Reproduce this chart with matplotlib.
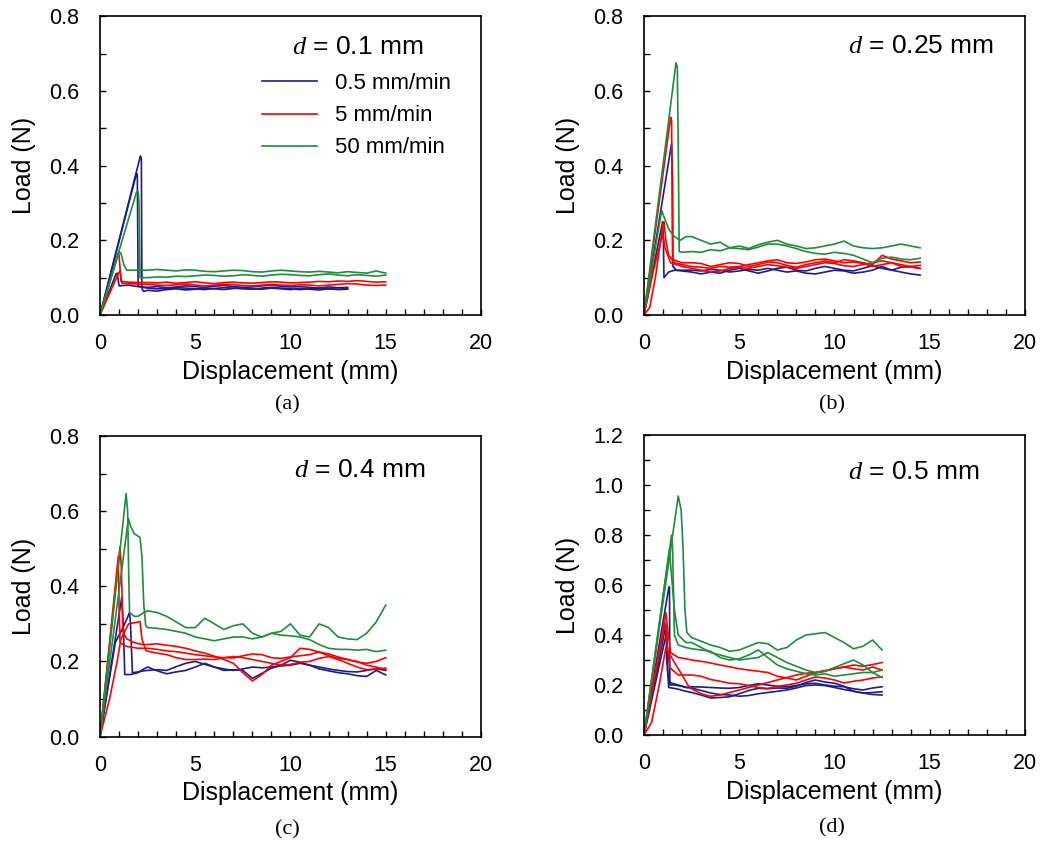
import matplotlib
matplotlib.use('Agg')
import matplotlib.pyplot as plt
from matplotlib.ticker import MultipleLocator, FormatStrFormatter

plt.rcParams['font.family'] = ['Liberation Sans', 'DejaVu Sans']
plt.rcParams['mathtext.fontset'] = 'custom'
plt.rcParams['mathtext.it'] = 'Liberation Serif:italic'
plt.rcParams['mathtext.rm'] = 'Liberation Sans'

rates = ['0.5 mm/min', '5 mm/min', '50 mm/min']
colors = ['#1c1c8c', '#ff0000', '#1e8c3a']

# displacement (mm) of the plateau readings, shared by all curves
plateau_x = [2.5, 3.0, 3.5, 4.0, 4.5, 5.0, 5.5, 6.0, 6.5, 7.0, 7.5, 8.0, 8.5,
             9.0, 9.5, 10.0, 10.5, 11.0, 11.5, 12.0, 12.5, 13.0, 13.5, 14.0,
             14.5, 15.0]

# ---- (a) d = 0.1 mm ----
a_blue1_hx = [0, 2.12, 2.17, 2.2, 2.3]
a_blue1_y = [0, 0.426, 0.42, 0.07, 0.063,
             0.066, 0.064, 0.068, 0.070, 0.067, 0.069, 0.072, 0.070, 0.068, 0.071, 0.073,
             0.070, 0.069, 0.072, 0.070, 0.068, 0.071, 0.069, 0.067, 0.070, 0.068, 0.069]
a_blue2_hx = [0, 1.92, 1.96, 2.0, 2.2]
a_blue2_y = [0, 0.38, 0.375, 0.078, 0.075,
             0.074, 0.076, 0.073, 0.075, 0.078, 0.076, 0.074, 0.077, 0.079, 0.076, 0.074,
             0.075, 0.078, 0.080, 0.077, 0.075, 0.076, 0.074, 0.072, 0.075, 0.073, 0.074]
a_blue3_hx = [0, 0.84, 0.9, 1.0, 1.5, 2.0]
a_blue3_y = [0, 0.11, 0.112, 0.078, 0.08, 0.076,
             0.072, 0.070, 0.071, 0.073, 0.072, 0.070, 0.068, 0.071, 0.073, 0.072, 0.070,
             0.069, 0.072, 0.074, 0.072, 0.070, 0.068, 0.070, 0.072, 0.070, 0.069, 0.071]
a_red1_hx = [0, 0.95, 1.0, 1.1, 1.5, 2.0]
a_red1_y = [0, 0.165, 0.16, 0.09, 0.088, 0.087,
            0.087, 0.086, 0.088, 0.085, 0.087, 0.089, 0.086, 0.084, 0.087, 0.088, 0.086,
            0.085, 0.087, 0.089, 0.088, 0.086, 0.087, 0.088, 0.090, 0.089, 0.091, 0.090,
            0.092, 0.090, 0.088, 0.089]
a_red2_hx = [0, 0.98, 1.05, 1.15, 2.0]
a_red2_y = [0, 0.113, 0.118, 0.085, 0.083,
            0.082, 0.080, 0.079, 0.081, 0.083, 0.080, 0.078, 0.080, 0.082, 0.081, 0.079,
            0.078, 0.080, 0.082, 0.080, 0.079, 0.081, 0.080, 0.078, 0.080, 0.082, 0.084,
            0.083, 0.080, 0.079, 0.080]
a_green1_hx = [0, 1.0, 1.1, 1.25, 1.4, 2.0]
a_green1_y = [0, 0.17, 0.165, 0.135, 0.12, 0.12,
              0.120, 0.122, 0.120, 0.118, 0.121, 0.120, 0.117, 0.116, 0.118, 0.120, 0.119,
              0.116, 0.115, 0.118, 0.120, 0.118, 0.116, 0.115, 0.117, 0.115, 0.113, 0.116,
              0.114, 0.112, 0.118, 0.112]
a_green2_hx = [0, 1.92, 2.0, 2.05, 2.1, 2.3]
a_green2_y = [0, 0.33, 0.33, 0.3, 0.1, 0.1,
              0.100, 0.102, 0.101, 0.104, 0.103, 0.105, 0.107, 0.106, 0.104, 0.105, 0.108,
              0.106, 0.104, 0.107, 0.109, 0.108, 0.106, 0.105, 0.108, 0.110, 0.107, 0.105,
              0.108, 0.106, 0.104, 0.107]

# ---- (b) d = 0.25 mm ----
b_blue1_hx = [0, 1.45, 1.5, 1.52, 1.7, 2.0]
b_blue1_y = [0, 0.46, 0.36, 0.13, 0.12, 0.12,
             0.120, 0.118, 0.122, 0.120, 0.115, 0.118, 0.122, 0.120, 0.125, 0.120, 0.115,
             0.118, 0.112, 0.110, 0.115, 0.120, 0.118, 0.112, 0.115, 0.120, 0.130, 0.120,
             0.115, 0.110, 0.107]
b_blue2_hx = [0, 0.98, 1.02, 1.05, 1.3, 1.6, 2.0]
b_blue2_y = [0, 0.25, 0.2, 0.1, 0.115, 0.12, 0.118,
             0.115, 0.110, 0.115, 0.112, 0.120, 0.125, 0.118, 0.112, 0.118, 0.125, 0.128,
             0.120, 0.118, 0.125, 0.130, 0.125, 0.120, 0.118, 0.125, 0.132, 0.125, 0.120,
             0.128, 0.130, 0.125]
b_red1_hx = [0, 1.4, 1.45, 1.5, 1.7, 2.0]
b_red1_y = [0, 0.53, 0.52, 0.15, 0.145, 0.14,
            0.140, 0.138, 0.130, 0.135, 0.140, 0.138, 0.130, 0.135, 0.142, 0.140, 0.133,
            0.128, 0.135, 0.140, 0.145, 0.140, 0.148, 0.145, 0.140, 0.135, 0.160, 0.150,
            0.145, 0.140, 0.142]
b_red2_hx = [0, 0.3, 0.6, 1.0, 1.05, 1.15, 1.3, 1.6, 2.0]
b_red2_y = [0, 0.02, 0.1, 0.245, 0.25, 0.2, 0.16, 0.14, 0.135,
            0.130, 0.128, 0.125, 0.130, 0.128, 0.130, 0.135, 0.140, 0.145, 0.148, 0.140,
            0.138, 0.142, 0.148, 0.150, 0.145, 0.140, 0.142, 0.138, 0.130, 0.135, 0.140,
            0.135, 0.130, 0.133]
b_red3_hx = [0, 0.5, 0.9, 1.0, 1.1, 1.4, 2.0]
b_red3_y = [0, 0.12, 0.2, 0.215, 0.18, 0.14, 0.13,
            0.125, 0.120, 0.115, 0.118, 0.125, 0.128, 0.125, 0.130, 0.135, 0.132, 0.128,
            0.125, 0.130, 0.135, 0.140, 0.138, 0.132, 0.130, 0.135, 0.140, 0.145, 0.140,
            0.130, 0.128, 0.125]
b_green1_hx = [0, 1.68, 1.75, 1.8, 1.85, 2.0]
b_green1_y = [0, 0.676, 0.665, 0.45, 0.17, 0.168,
              0.170, 0.168, 0.175, 0.172, 0.180, 0.178, 0.175, 0.182, 0.190, 0.190, 0.185,
              0.178, 0.170, 0.165, 0.163, 0.168, 0.165, 0.160, 0.150, 0.140, 0.152, 0.155,
              0.150, 0.148, 0.152]
b_green2_hx = [0, 0.93, 1.0, 1.3, 1.6, 1.9, 2.2]
b_green2_y = [0, 0.28, 0.27, 0.23, 0.21, 0.2, 0.21,
              0.210, 0.200, 0.190, 0.195, 0.180, 0.185, 0.178, 0.188, 0.195, 0.200, 0.190,
              0.185, 0.178, 0.180, 0.185, 0.190, 0.198, 0.185, 0.180, 0.178, 0.180, 0.185,
              0.190, 0.185, 0.180]

# ---- (c) d = 0.4 mm ----
c_blue1_hx = [0, 1.14, 1.22, 1.3, 1.6, 2.0, 2.3]
c_blue1_y = [0, 0.37, 0.3, 0.165, 0.165, 0.17, 0.18,
             0.185, 0.175, 0.167, 0.172, 0.176, 0.185, 0.195, 0.185, 0.176, 0.178, 0.176,
             0.155, 0.168, 0.182, 0.190, 0.203, 0.198, 0.190, 0.180, 0.175, 0.170, 0.167,
             0.162, 0.160, 0.176, 0.164]
c_blue2_hx = [0, 0.8, 1.3, 1.55, 1.6, 1.7, 2.0, 2.3]
c_blue2_y = [0, 0.25, 0.3, 0.33, 0.3, 0.17, 0.172, 0.175,
             0.176, 0.178, 0.176, 0.186, 0.195, 0.200, 0.192, 0.185, 0.180, 0.176, 0.180,
             0.185, 0.183, 0.185, 0.188, 0.190, 0.195, 0.190, 0.185, 0.180, 0.176, 0.173,
             0.172, 0.176, 0.180, 0.176]
c_red1_hx = [0, 1.05, 1.12, 1.2, 1.4, 1.8, 2.2]
c_red1_y = [0, 0.506, 0.45, 0.28, 0.26, 0.25, 0.245,
            0.245, 0.247, 0.243, 0.240, 0.235, 0.228, 0.222, 0.214, 0.205, 0.195, 0.170,
            0.148, 0.165, 0.190, 0.200, 0.210, 0.235, 0.232, 0.225, 0.215, 0.208, 0.205,
            0.200, 0.190, 0.185, 0.178]
c_red2_hx = [0, 0.96, 1.0, 1.05, 1.4, 2.0]
c_red2_y = [0, 0.48, 0.35, 0.25, 0.24, 0.235,
            0.235, 0.232, 0.228, 0.226, 0.222, 0.218, 0.215, 0.212, 0.210, 0.209, 0.215,
            0.220, 0.218, 0.210, 0.208, 0.212, 0.215, 0.218, 0.225, 0.220, 0.212, 0.205,
            0.198, 0.195, 0.200, 0.210]
c_red3_hx = [0, 0.5, 0.9, 1.1, 1.5, 2.1, 2.2, 2.4]
c_red3_y = [0, 0.1, 0.2, 0.26, 0.3, 0.306, 0.26, 0.23,
            0.227, 0.222, 0.218, 0.210, 0.205, 0.205, 0.206, 0.205, 0.210, 0.213, 0.210,
            0.205, 0.200, 0.195, 0.190, 0.192, 0.198, 0.200, 0.208, 0.213, 0.205, 0.195,
            0.185, 0.178, 0.180, 0.182]
c_green1_hx = [0, 1.37, 1.45, 1.5, 1.55, 1.8, 2.0, 2.3]
c_green1_y = [0, 0.647, 0.6, 0.45, 0.33, 0.32, 0.32, 0.33,
              0.335, 0.330, 0.320, 0.305, 0.290, 0.290, 0.315, 0.300, 0.285, 0.295, 0.300,
              0.275, 0.265, 0.275, 0.280, 0.300, 0.270, 0.265, 0.300, 0.290, 0.265, 0.260,
              0.258, 0.275, 0.305, 0.350]
c_green2_hx = [0, 1.49, 1.6, 1.8, 2.1, 2.2, 2.3, 2.4]
c_green2_y = [0, 0.58, 0.56, 0.54, 0.53, 0.48, 0.35, 0.295,
              0.290, 0.288, 0.285, 0.280, 0.275, 0.265, 0.260, 0.255, 0.260, 0.265, 0.265,
              0.260, 0.265, 0.275, 0.270, 0.268, 0.265, 0.258, 0.245, 0.235, 0.232, 0.232,
              0.230, 0.232, 0.226, 0.230]

# ---- (d) d = 0.5 mm ----
d_blue1_hx = [0, 1.31, 1.34, 1.36, 1.6, 2.0, 2.3]
d_blue1_y = [0, 0.593, 0.59, 0.2, 0.2, 0.195, 0.19,
             0.193, 0.192, 0.190, 0.188, 0.187, 0.190, 0.198, 0.205, 0.200, 0.195, 0.193,
             0.198, 0.205, 0.207, 0.200, 0.195, 0.193, 0.185, 0.180, 0.188, 0.193]
d_blue2_hx = [0, 1.05, 1.15, 1.2, 1.3, 1.7, 2.2]
d_blue2_y = [0, 0.4, 0.44, 0.3, 0.19, 0.185, 0.175,
             0.170, 0.160, 0.148, 0.150, 0.153, 0.165, 0.178, 0.187, 0.185, 0.188, 0.187,
             0.195, 0.210, 0.220, 0.212, 0.207, 0.195, 0.175, 0.168, 0.162, 0.160]
d_blue3_hx = [0, 1.1, 1.2, 1.25, 1.35, 1.8, 2.2]
d_blue3_y = [0, 0.38, 0.41, 0.25, 0.21, 0.2, 0.19,
             0.188, 0.178, 0.168, 0.162, 0.160, 0.155, 0.158, 0.165, 0.170, 0.175, 0.180,
             0.188, 0.198, 0.200, 0.198, 0.190, 0.182, 0.175, 0.168, 0.170, 0.173]
d_red1_hx = [0, 1.15, 1.25, 1.4, 1.8, 2.2]
d_red1_y = [0, 0.49, 0.42, 0.33, 0.31, 0.305,
            0.300, 0.295, 0.288, 0.280, 0.273, 0.265, 0.260, 0.255, 0.250, 0.235, 0.228,
            0.220, 0.235, 0.248, 0.255, 0.265, 0.272, 0.265, 0.260, 0.272, 0.260]
d_red2_hx = [0, 1.1, 1.2, 1.35, 1.8, 2.2]
d_red2_y = [0, 0.45, 0.38, 0.27, 0.24, 0.24,
            0.240, 0.235, 0.222, 0.215, 0.207, 0.205, 0.198, 0.190, 0.186, 0.195, 0.200,
            0.207, 0.220, 0.232, 0.228, 0.220, 0.208, 0.215, 0.220, 0.228, 0.233]
d_red3_hx = [0, 0.4, 0.8, 1.15, 1.3, 1.6, 2.0, 2.3]
d_red3_y = [0, 0.05, 0.2, 0.35, 0.33, 0.29, 0.24, 0.2,
            0.185, 0.165, 0.155, 0.160, 0.170, 0.180, 0.190, 0.200, 0.210, 0.220, 0.230,
            0.240, 0.247, 0.250, 0.258, 0.265, 0.272, 0.280, 0.275, 0.282, 0.290]
d_green1_hx = [0, 1.8, 1.95, 2.05, 2.15, 2.25]
d_green1_y = [0, 0.956, 0.9, 0.75, 0.5, 0.41,
              0.390, 0.375, 0.360, 0.350, 0.335, 0.340, 0.355, 0.370, 0.365, 0.340, 0.350,
              0.380, 0.400, 0.405, 0.410, 0.390, 0.370, 0.345, 0.355, 0.380, 0.340]
d_green2_hx = [0, 1.45, 1.5, 1.6, 1.8, 2.2]
d_green2_y = [0, 0.8, 0.75, 0.4, 0.36, 0.35,
              0.345, 0.340, 0.335, 0.310, 0.300, 0.305, 0.320, 0.340, 0.310, 0.280, 0.265,
              0.255, 0.245, 0.240, 0.245, 0.235, 0.240, 0.245, 0.250, 0.250, 0.260]
d_green3_hx = [0, 1.33, 1.4, 1.6, 1.8, 2.2]
d_green3_y = [0, 0.74, 0.68, 0.5, 0.4, 0.37,
              0.370, 0.350, 0.330, 0.320, 0.310, 0.300, 0.305, 0.310, 0.330, 0.310, 0.290,
              0.275, 0.260, 0.250, 0.255, 0.270, 0.285, 0.300, 0.280, 0.250, 0.230]

panels = [
    {'rect': [0.0948, 0.6277, 0.3611, 0.3528], 'ymax': 0.8, 'd': '0.1',
     'dpos': (0.505, 0.875), 'cap': '(a)', 'cap_xy': (0.272, 0.521),
     'curves': [[(a_blue1_hx, a_blue1_y), (a_blue2_hx, a_blue2_y), (a_blue3_hx, a_blue3_y)],
                [(a_red1_hx, a_red1_y), (a_red2_hx, a_red2_y)],
                [(a_green1_hx, a_green1_y), (a_green2_hx, a_green2_y)]]},
    {'rect': [0.6104, 0.6277, 0.3611, 0.3528], 'ymax': 0.8, 'd': '0.25',
     'dpos': (0.535, 0.878), 'cap': '(b)', 'cap_xy': (0.789, 0.521),
     'curves': [[(b_blue1_hx, b_blue1_y), (b_blue2_hx, b_blue2_y)],
                [(b_red1_hx, b_red1_y), (b_red2_hx, b_red2_y), (b_red3_hx, b_red3_y)],
                [(b_green1_hx, b_green1_y), (b_green2_hx, b_green2_y)]]},
    {'rect': [0.0948, 0.1294, 0.3611, 0.3552], 'ymax': 0.8, 'd': '0.4',
     'dpos': (0.51, 0.862), 'cap': '(c)', 'cap_xy': (0.272, 0.019),
     'curves': [[(c_blue1_hx, c_blue1_y), (c_blue2_hx, c_blue2_y)],
                [(c_red1_hx, c_red1_y), (c_red2_hx, c_red2_y), (c_red3_hx, c_red3_y)],
                [(c_green1_hx, c_green1_y), (c_green2_hx, c_green2_y)]]},
    {'rect': [0.6104, 0.1312, 0.3611, 0.3546], 'ymax': 1.2, 'd': '0.5',
     'dpos': (0.535, 0.855), 'cap': '(d)', 'cap_xy': (0.789, 0.021),
     'curves': [[(d_blue1_hx, d_blue1_y), (d_blue2_hx, d_blue2_y), (d_blue3_hx, d_blue3_y)],
                [(d_red1_hx, d_red1_y), (d_red2_hx, d_red2_y), (d_red3_hx, d_red3_y)],
                [(d_green1_hx, d_green1_y), (d_green2_hx, d_green2_y), (d_green3_hx, d_green3_y)]]},
]

fig = plt.figure(figsize=(10.55, 8.46), dpi=100)

for i, p in enumerate(panels):
    ax = fig.add_axes(p['rect'])
    handles = []
    for k, group in enumerate(p['curves']):
        for j, (hx, y) in enumerate(group):
            x = hx + plateau_x[:len(y) - len(hx)]
            ln, = ax.plot(x, y, color=colors[k], lw=1.2)
            if j == 0:
                ln.set_label(rates[k])
                handles.append(ln)

    ax.set_xlim(0, 20)
    ax.set_ylim(0, p['ymax'])
    ax.xaxis.set_major_locator(MultipleLocator(5))
    ax.xaxis.set_minor_locator(MultipleLocator(1))
    ax.yaxis.set_major_locator(MultipleLocator(0.2))
    ax.yaxis.set_minor_locator(MultipleLocator(0.1))
    ax.yaxis.set_major_formatter(FormatStrFormatter('%.1f'))
    ax.tick_params(which='both', direction='in', top=False, right=False,
                   labelsize=15.5, width=1.0)
    ax.tick_params(which='major', length=4.5)
    ax.tick_params(which='minor', length=4)
    ax.tick_params(axis='x', which='both', pad=13)
    ax.tick_params(axis='y', which='both', pad=15)
    for s in ax.spines.values():
        s.set_linewidth(1.2)

    ax.set_xlabel('Displacement (mm)', fontsize=18, labelpad=4)
    ax.set_ylabel('Load (N)', fontsize=18, labelpad=9)

    ax.text(p['dpos'][0], p['dpos'][1], '$d$ = ' + p['d'] + ' mm',
            transform=ax.transAxes, fontsize=19, ha='left', va='baseline')

    fig.text(p['cap_xy'][0], p['cap_xy'][1], p['cap'], ha='center', va='center',
             family='Liberation Serif', fontsize=16)

    if i == 0:
        ax.legend(handles=handles, loc='upper left', bbox_to_anchor=(0.425, 0.81),
                  frameon=False, fontsize=16, handlelength=2.5, handletextpad=0.8,
                  labelspacing=0.5, borderpad=0, borderaxespad=0)

fig.savefig('out.png', dpi=100)
